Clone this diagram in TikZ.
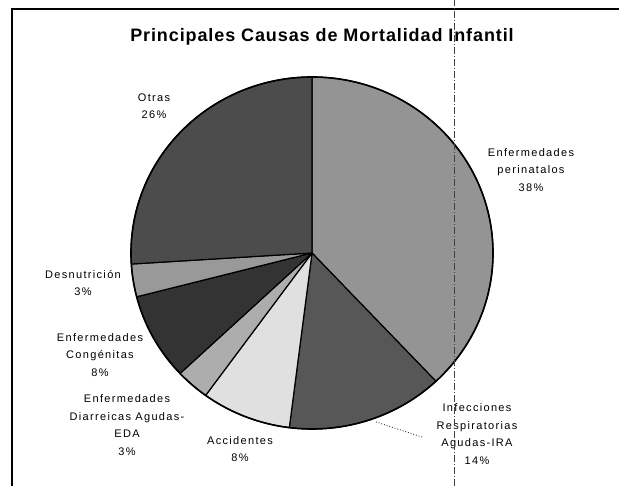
\documentclass[tikz,border=0pt]{standalone}
\usepackage{fontspec}
\setmainfont{Liberation Sans}
\usetikzlibrary{positioning}
\tikzset{
  rebanada/.style={draw=black, line width=1.2pt, line join=round},
  etiqueta/.style={align=center, inner sep=1pt, font=\fontsize{11}{17.5}\selectfont\addfontfeature{LetterSpace=12}},
  titulo/.style={font=\bfseries\fontsize{18}{20}\selectfont\addfontfeature{LetterSpace=5}},
  guia/.style={dotted, line width=0.8pt},
}

\begin{document}
\begin{tikzpicture}[x=1pt, y=1pt]
\useasboundingbox (0,0) rectangle (619,486);
\fill[white] (0,0) rectangle (619,486);

% Frame
\draw[line width=2pt] (12,0) -- (12,477) -- (619,477);

% Title
\node[titulo] (titulo) at (322,449) {Principales Causas de Mortalidad Infantil};

% Pie slices
\coordinate (centro) at (312,233);
\foreach \ini/\fin/\tono in {90/-46.8/42, -46.8/-97.2/66, -97.2/-126/12, -126/-136.8/32,
                              -136.8/-165.6/80, -165.6/-176.4/40, -176.4/-270/70}
  \filldraw[rebanada, fill=black!\tono] (centro) -- ++(\ini:181 and 176)
    arc[start angle=\ini, end angle=\fin, x radius=181, y radius=176] -- cycle;
\draw[line width=1.6pt] (centro) ellipse[x radius=181, y radius=176];

% Labels
\node[etiqueta] (perinatal) at (531,316) {Enfermedades\\perinatalos\\38\%};
\node[etiqueta] (infecciones) at (477,52) {Infecciones\\Respiratorias\\Agudas-IRA\\14\%};
\node[etiqueta] (accidentes) at (240,37) {Accidentes\\8\%};
\node[etiqueta] (eda) at (127,61) {Enfermedades\\Diarreicas Agudas-\\EDA\\3\%};
\node[etiqueta] (congenitas) at (100,131) {Enfermedades\\Congénitas\\8\%};
\node[etiqueta] (desnutricion) at (83,203) {Desnutrición\\3\%};
\node[etiqueta] (otras) at (154,380) {Otras\\26\%};

% Leader line
\coordinate (iraBorde) at (376,64);
\coordinate (iraFin) at (422,49);
\draw[guia] (iraBorde) -- (iraFin);

% Fold line of the scan
\draw[thin, black!75, dash pattern=on 7pt off 2pt on 1pt off 2pt] (454,0) -- (454,486);

\end{tikzpicture}
\end{document}
